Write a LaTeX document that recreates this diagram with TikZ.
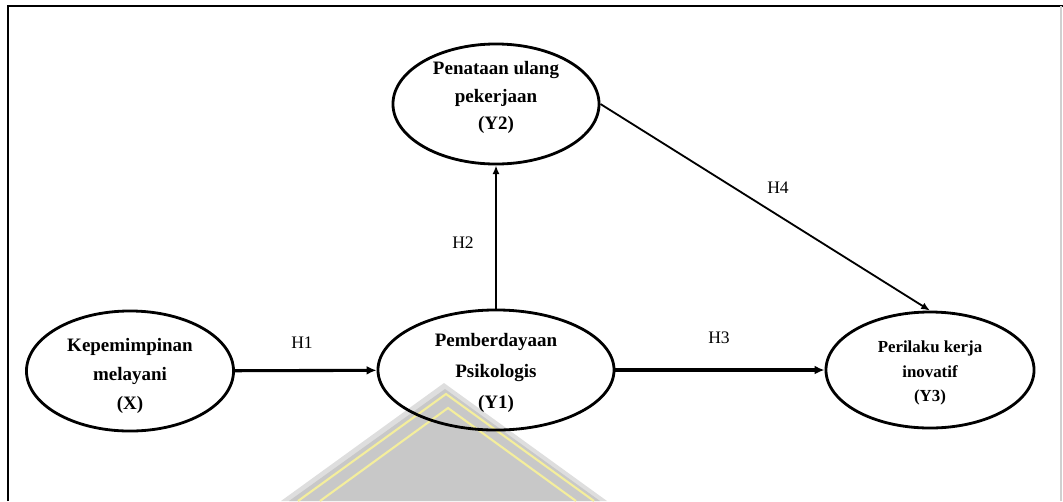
\documentclass[tikz,border=0pt]{standalone}
\usepackage{fontspec}
\setmainfont{Liberation Serif}
\usetikzlibrary{shapes.geometric, arrows.meta, positioning}
\definecolor{markgray}{HTML}{C8C8C8}
\definecolor{markpale}{HTML}{DEDEDE}
\definecolor{markyellow}{HTML}{F4EE9C}
\definecolor{edgegray}{HTML}{D0D0D0}
\newcommand{\pushdown}[1]{\rule{0pt}{#1}}
\newcommand{\pushup}[1]{\rule[-#1]{0pt}{0pt}}
\tikzset{
	varnode/.style={
			shape=ellipse,
			draw=black,
			line width=2pt,
			align=center,
			inner sep=0pt,
			font=\bfseries\fontsize{13.5}{20.5}\selectfont
		},
	widevarnode/.style={
			varnode,
			font=\bfseries\fontsize{13.5}{22}\selectfont
		},
	smallvarnode/.style={
			varnode,
			font=\bfseries\fontsize{12}{17.5}\selectfont
		}
}
\tikzset{
	hyplabel/.style={inner sep=0pt, font=\fontsize{12.5}{15}\selectfont},
	mainarrow/.style={-{Latex[length=2.5mm, width=2.2mm]}, line width=2.2pt},
	sidearrow/.style={-{Latex[length=2.2mm, width=1.8mm]}, line width=1.3pt}
}

\begin{document}
\begin{tikzpicture}[x=0.025cm, y=-0.025cm]
  \useasboundingbox (0,0) rectangle (1063,501);

  % watermark at the bottom
  \fill[markpale] (281,501) -- (444,383) -- (607,501) -- cycle;
  \fill[markgray] (289,501) -- (445,389) -- (600,501) -- cycle;
  \draw[markyellow, line width=1.5pt] (298,501) -- (446,394) -- (594,501);
  \draw[markyellow, line width=1.5pt] (320,501) -- (448,408) -- (576,501);

  % frame
  \draw[line width=1.6pt] (8,501) -- (8,6) -- (1063,6);
  \draw[edgegray, line width=0.8pt] (1061,6) -- (1061,501);

  \node[varnode, minimum width=5.175cm, minimum height=2.875cm] (x) at (130,371) {\pushdown{16.5pt}Kepemimpinan\\melayani\\(X)};
  \node[widevarnode, minimum width=5.9cm, minimum height=3cm] (y1) at (496,370) {\pushdown{13.5pt}Pemberdayaan\\Psikologis\\(Y1)};
  \node[varnode, minimum width=5.15cm, minimum height=2.7cm, font=\bfseries\fontsize{13.5}{19.5}\selectfont] (y2) at (496,104) {Penataan ulang\\pekerjaan\\(Y2)\pushup{12pt}};
  \node[smallvarnode, minimum width=5.2cm, minimum height=2.9cm] (y3) at (930,370) {\pushdown{13pt}Perilaku kerja\\inovatif\\(Y3)};

  \node[hyplabel] (h1) at (302,343) {H1};
  \node[hyplabel] (h2) at (463,243) {H2};
  \node[hyplabel] (h3) at (719,338) {H3};
  \node[hyplabel] (h4) at (778,188) {H4};

  \draw[mainarrow] (x) -- (y1);
  \draw[mainarrow] (y1) -- (y3);
  \draw[sidearrow] (y1) -- (y2);
  \draw[sidearrow] (y2.east) -- (y3.north);

\end{tikzpicture}
\end{document}
